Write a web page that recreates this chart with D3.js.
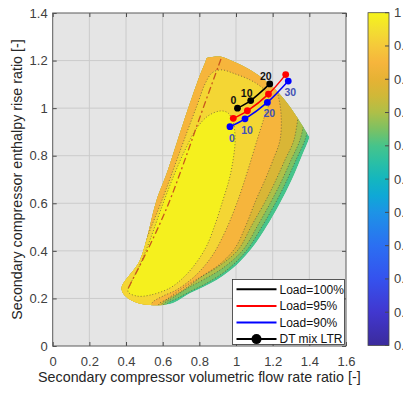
<!DOCTYPE html>
<html>
<head>
<meta charset="utf-8">
<script src="https://d3js.org/d3.v7.min.js"></script>
<style>
  html, body { margin: 0; padding: 0; background: #fff; }
  svg { display: block; font-family: 'Liberation Sans', Arial, sans-serif; }
</style>
</head>
<body>
<svg id="chart" width="403" height="394"></svg>
<script>
// ---- axis / colorbar ticks ----
const xTicks = [0, 0.2, 0.4, 0.6, 0.8, 1, 1.2, 1.4, 1.6]
const yTicks = [0, 0.2, 0.4, 0.6, 0.8, 1, 1.2, 1.4]
const cbTicks = [0.5, 0.55, 0.6, 0.65, 0.7, 0.75, 0.8, 0.85, 0.9, 0.95, 1]

// colormap (parula-like with an orange insert near the top)
const cmapStops = [0.5, 0.55, 0.6, 0.65, 0.7, 0.725, 0.75, 0.775, 0.8, 0.825, 0.85, 0.875, 0.9, 0.925, 0.95, 0.975, 1]
const cmapColors = ['#3b2b9c', '#4137cf', '#3552ee', '#2b6ff2', '#1d93e6', '#0fa8d6', '#14b6bf', '#2abfa5',
  '#46c48b', '#7cc163', '#aebf48', '#d0b838', '#e6b234', '#f6b53c', '#f5c93a', '#f3df30', '#f6f41a']

// ---- contour map ----
const mapOutline = [[0.840, 1.210], [0.862, 1.214], [0.913, 1.217], [0.985, 1.196], [1.076, 1.161],
  [1.167, 1.111], [1.258, 1.042], [1.331, 0.964], [1.393, 0.888], [1.400, 0.878], [1.394, 0.862],
  [1.358, 0.796], [1.304, 0.698], [1.240, 0.600], [1.167, 0.502], [1.094, 0.418], [1.004, 0.341],
  [0.895, 0.278], [0.749, 0.222], [0.640, 0.177], [0.449, 0.185], [0.376, 0.238], [0.476, 0.362],
  [0.567, 0.614], [0.622, 0.726], [0.712, 0.937], [0.804, 1.140], [0.834, 1.196]]

// contour levels, outer to inner
const bandLevels = [0.80, 0.825, 0.85, 0.885, 0.925, 0.965, 0.995]

const iso825 = [[1.398, 0.934], [1.376, 0.866], [1.327, 0.782], [1.278, 0.698], [1.224, 0.614],
  [1.147, 0.509], [1.060, 0.404], [0.951, 0.320], [0.842, 0.265], [0.765, 0.235], [0.684, 0.202],
  [0.624, 0.177], [0.618, 0.143]]
const iso850 = [[1.376, 0.959], [1.349, 0.866], [1.300, 0.782], [1.251, 0.698], [1.196, 0.614],
  [1.120, 0.509], [1.038, 0.404], [0.929, 0.328], [0.820, 0.278], [0.738, 0.244], [0.662, 0.206],
  [0.607, 0.177], [0.602, 0.143]]
const iso885 = [[1.344, 1.001], [1.316, 0.866], [1.267, 0.782], [1.218, 0.698], [1.164, 0.614],
  [1.087, 0.509], [1.011, 0.404], [0.907, 0.336], [0.798, 0.286], [0.716, 0.248], [0.640, 0.206],
  [0.596, 0.177], [0.591, 0.143]]
const iso925 = [[1.196, 1.127], [1.229, 1.055], [1.246, 0.971], [1.240, 0.866], [1.202, 0.782],
  [1.158, 0.698], [1.109, 0.614], [1.055, 0.509], [0.995, 0.412], [0.913, 0.345], [0.809, 0.290],
  [0.711, 0.235], [0.629, 0.198], [0.580, 0.177], [0.575, 0.143]]
const iso965 = [[0.531, 0.143], [0.542, 0.181], [0.602, 0.210], [0.673, 0.235], [0.776, 0.294],
  [0.869, 0.378], [0.945, 0.488], [1.011, 0.614], [1.065, 0.740], [1.115, 0.866], [1.153, 0.959],
  [1.180, 1.026], [1.164, 1.068], [1.131, 1.093], [1.076, 1.119], [0.995, 1.144], [0.918, 1.161],
  [0.869, 1.148], [0.831, 1.102], [0.788, 1.013], [0.733, 0.900], [0.667, 0.761], [0.607, 0.635],
  [0.542, 0.509], [0.476, 0.383], [0.438, 0.328], [0.313, 0.328]]
const iso995 = [[0.914, 0.988], [0.956, 0.980], [0.984, 0.942], [0.995, 0.866], [0.984, 0.782],
  [0.962, 0.698], [0.929, 0.614], [0.885, 0.509], [0.840, 0.421], [0.782, 0.349], [0.716, 0.290],
  [0.640, 0.244], [0.531, 0.214], [0.460, 0.210], [0.411, 0.228], [0.427, 0.265], [0.476, 0.341],
  [0.531, 0.446], [0.585, 0.563], [0.651, 0.698], [0.722, 0.824], [0.787, 0.917], [0.847, 0.967]]

// surge-type dash-dot line
const limitLine = [[0.918, 1.207], [0.804, 0.964], [0.711, 0.761], [0.629, 0.593], [0.531, 0.425], [0.412, 0.243]]

// ---- operating lines (DT mix LTR = 0, 10, 20, 30) ----
const loadNames = ['Load=100%', 'Load=95%', 'Load=90%']
const markerName = 'DT mix LTR'
const ltrLabels = ['0', '10', '20', '30']
const load100X = [1.008, 1.080, 1.184]
const load100Y = [1.000, 1.032, 1.102]
const load95X = [0.985, 1.062, 1.177, 1.271]
const load95Y = [0.957, 0.989, 1.059, 1.141]
const load90X = [0.967, 1.049, 1.171, 1.285]
const load90Y = [0.922, 0.955, 1.024, 1.114]

// ---- layout ----
const plot = { left: 52.7, right: 346, top: 13, bottom: 346 }
const svg = d3.select('#chart')

const x = d3.scaleLinear().domain([0, 1.6]).range([plot.left, plot.right])
const y = d3.scaleLinear().domain([0, 1.4]).range([plot.bottom, plot.top])
const color = d3.scaleLinear().domain(cmapStops).range(cmapColors).interpolate(d3.interpolateRgb)

const smooth = d3.line().x(d => x(d[0])).y(d => y(d[1])).curve(d3.curveCatmullRom.alpha(0.5))
const smoothClosed = d3.line().x(d => x(d[0])).y(d => y(d[1])).curve(d3.curveCatmullRomClosed.alpha(0.5))
const pts = p => p.map(d => `L${x(d[0])},${y(d[1])}`).join('')

// background + grid
svg.append('rect')
  .attr('x', plot.left).attr('y', plot.top)
  .attr('width', plot.right - plot.left).attr('height', plot.bottom - plot.top)
  .attr('fill', '#e5e5e5')

const grid = svg.append('g').attr('stroke', '#cbcbcb').attr('stroke-width', 1)
grid.selectAll('.gx').data(xTicks.slice(1, -1)).join('line')
  .attr('x1', d => x(d)).attr('x2', d => x(d)).attr('y1', plot.top).attr('y2', plot.bottom)
grid.selectAll('.gy').data(yTicks.slice(1, -1)).join('line')
  .attr('y1', d => y(d)).attr('y2', d => y(d)).attr('x1', plot.left).attr('x2', plot.right)

// ---- filled contours ----
svg.append('defs').append('clipPath').attr('id', 'mapClip')
  .append('path').attr('d', smoothClosed(mapOutline))

const map = svg.append('g').attr('clip-path', 'url(#mapClip)')

// region above/left of an isoline that runs from the top arc to the bottom edge
const upLeft = iso => {
  const a = iso[0], b = iso[iso.length - 1]
  return smooth(iso) + pts([[b[0], -0.3], [-0.5, -0.3], [-0.5, 1.8], [a[0], 1.8]]) + 'Z'
}
// region inside an isoline that leaves the map at the bottom and at the left edge
const inside = iso => {
  const a = iso[0], b = iso[iso.length - 1]
  return smooth(iso) + pts([[b[0], -0.3], [a[0], -0.3]]) + 'Z'
}

const bands = [
  { level: bandLevels[0], d: smoothClosed(mapOutline), line: null },
  { level: bandLevels[1], d: upLeft(iso825), line: smooth(iso825) },
  { level: bandLevels[2], d: upLeft(iso850), line: smooth(iso850) },
  { level: bandLevels[3], d: upLeft(iso885), line: smooth(iso885) },
  { level: bandLevels[4], d: upLeft(iso925), line: smooth(iso925) },
  { level: bandLevels[5], d: inside(iso965), line: smooth(iso965) },
  { level: bandLevels[6], d: smoothClosed(iso995), line: smoothClosed(iso995) },
]

map.selectAll('path.band').data(bands).join('path')
  .attr('class', 'band')
  .attr('d', d => d.d)
  .attr('fill', d => color(d.level))

map.selectAll('path.iso').data(bands.filter(b => b.line)).join('path')
  .attr('class', 'iso')
  .attr('d', d => d.line)
  .attr('fill', 'none')
  .attr('stroke', '#3a3a3a')
  .attr('stroke-width', 0.8)
  .attr('stroke-dasharray', '1,2')
  .attr('opacity', 0.75)

svg.append('path')
  .attr('d', smooth(limitLine))
  .attr('fill', 'none')
  .attr('stroke', '#c8561e')
  .attr('stroke-width', 1.3)
  .attr('stroke-dasharray', '7,3,2,3')

// ---- operating lines ----
const series = [
  { xs: load100X, ys: load100Y, color: '#000000', labelColor: '#111111', dx: -4, dy: -8, labels: true },
  { xs: load95X, ys: load95Y, color: '#ff0000', labels: false },
  { xs: load90X, ys: load90Y, color: '#0000ff', labelColor: '#4352b4', dx: 2, dy: 11, labels: true },
]

series.forEach(s => {
  const data = s.xs.map((v, i) => [v, s.ys[i], ltrLabels[i]])
  svg.append('path')
    .attr('d', smooth(data))
    .attr('fill', 'none')
    .attr('stroke', s.color)
    .attr('stroke-width', 1.5)
  svg.append('g').selectAll('circle').data(data).join('circle')
    .attr('cx', d => x(d[0])).attr('cy', d => y(d[1]))
    .attr('r', 3.4)
    .attr('fill', s.color)
  if (s.labels) {
    svg.append('g').selectAll('text').data(data).join('text')
      .attr('x', d => x(d[0]) + s.dx).attr('y', d => y(d[1]) + s.dy)
      .attr('text-anchor', 'middle')
      .attr('dominant-baseline', 'central')
      .attr('font-size', 10.5)
      .attr('font-weight', 'bold')
      .attr('fill', s.labelColor)
      .text(d => d[2])
  }
})

// ---- axes ----
const fmt = d3.format('~g')
const axB = svg.append('g').attr('transform', `translate(0,${plot.bottom})`)
  .call(d3.axisBottom(x).tickValues(xTicks).tickFormat(fmt).tickSizeInner(-4).tickSizeOuter(0).tickPadding(11))
const axL = svg.append('g').attr('transform', `translate(${plot.left},0)`)
  .call(d3.axisLeft(y).tickValues(yTicks).tickFormat(fmt).tickSizeInner(-4).tickSizeOuter(0).tickPadding(5))
const axT = svg.append('g').attr('transform', `translate(0,${plot.top})`)
  .call(d3.axisTop(x).tickValues(xTicks).tickFormat('').tickSizeInner(-4).tickSizeOuter(0))
const axR = svg.append('g').attr('transform', `translate(${plot.right},0)`)
  .call(d3.axisRight(y).tickValues(yTicks).tickFormat('').tickSizeInner(-4).tickSizeOuter(0))

;[axB, axL, axT, axR].forEach(g => {
  g.select('.domain').remove()
  g.selectAll('line').attr('stroke', '#4a4a4a')
  g.selectAll('text').attr('font-size', 13).attr('fill', '#404040')
    .attr('font-family', "'Liberation Sans', Arial, sans-serif")
})

svg.append('rect')
  .attr('x', plot.left).attr('y', plot.top)
  .attr('width', plot.right - plot.left).attr('height', plot.bottom - plot.top)
  .attr('fill', 'none').attr('stroke', '#5a5a5a').attr('stroke-width', 1)

svg.append('text')
  .attr('x', (plot.left + plot.right) / 2).attr('y', 381.5)
  .attr('text-anchor', 'middle').attr('font-size', 14.3).attr('fill', '#262626')
  .text('Secondary compressor volumetric flow rate ratio [-]')

svg.append('text')
  .attr('transform', `translate(22,${(plot.top + plot.bottom) / 2}) rotate(-90)`)
  .attr('text-anchor', 'middle').attr('font-size', 14.3).attr('fill', '#262626')
  .text('Secondary compressor enthalpy rise ratio [-]')

// ---- legend ----
const legend = svg.append('g')
legend.append('rect')
  .attr('x', 232.5).attr('y', 279.5).attr('width', 112).attr('height', 65)
  .attr('fill', '#ffffff').attr('stroke', '#303030').attr('stroke-width', 0.8)

const legendItems = loadNames.map((n, i) => ({ name: n, color: series[i].color, marker: false }))
  .concat([{ name: markerName, color: '#000000', marker: true }])

const rows = legend.selectAll('g.row').data(legendItems).join('g')
  .attr('class', 'row')
  .attr('transform', (d, i) => `translate(0,${289.3 + i * 16.6})`)
rows.append('line')
  .attr('x1', 236.5).attr('x2', 276.5)
  .attr('stroke', d => d.color).attr('stroke-width', 2)
rows.filter(d => d.marker).append('circle')
  .attr('cx', 256.5).attr('r', 5).attr('fill', '#000000')
rows.append('text')
  .attr('x', 279.5).attr('y', 4.3)
  .attr('font-size', 12).attr('fill', '#111111')
  .text(d => d.name)

// ---- colorbar (labels run past the right edge, as in the original) ----
const cb = { left: 368, width: 21, top: 12.7, bottom: 345.5 }
const cbScale = d3.scaleLinear().domain([0.5, 1]).range([cb.bottom, cb.top])

const grad = svg.select('defs').append('linearGradient')
  .attr('id', 'cbGrad').attr('x1', 0).attr('y1', 1).attr('x2', 0).attr('y2', 0)
grad.selectAll('stop').data(cmapStops).join('stop')
  .attr('offset', d => (d - 0.5) / 0.5)
  .attr('stop-color', (d, i) => cmapColors[i])

svg.append('rect')
  .attr('x', cb.left).attr('y', cb.top)
  .attr('width', cb.width).attr('height', cb.bottom - cb.top)
  .attr('fill', 'url(#cbGrad)').attr('stroke', '#4a4a4a').attr('stroke-width', 0.8)

svg.append('g').selectAll('line').data(cbTicks).join('line')
  .attr('x1', cb.left + cb.width - 4).attr('x2', cb.left + cb.width)
  .attr('y1', d => cbScale(d)).attr('y2', d => cbScale(d))
  .attr('stroke', '#4a4a4a')

svg.append('g').selectAll('text').data(cbTicks).join('text')
  .attr('x', cb.left + cb.width + 5).attr('y', d => cbScale(d) + 4.5)
  .attr('font-size', 13).attr('fill', '#404040')
  .text(d => fmt(d))
</script>
</body>
</html>
